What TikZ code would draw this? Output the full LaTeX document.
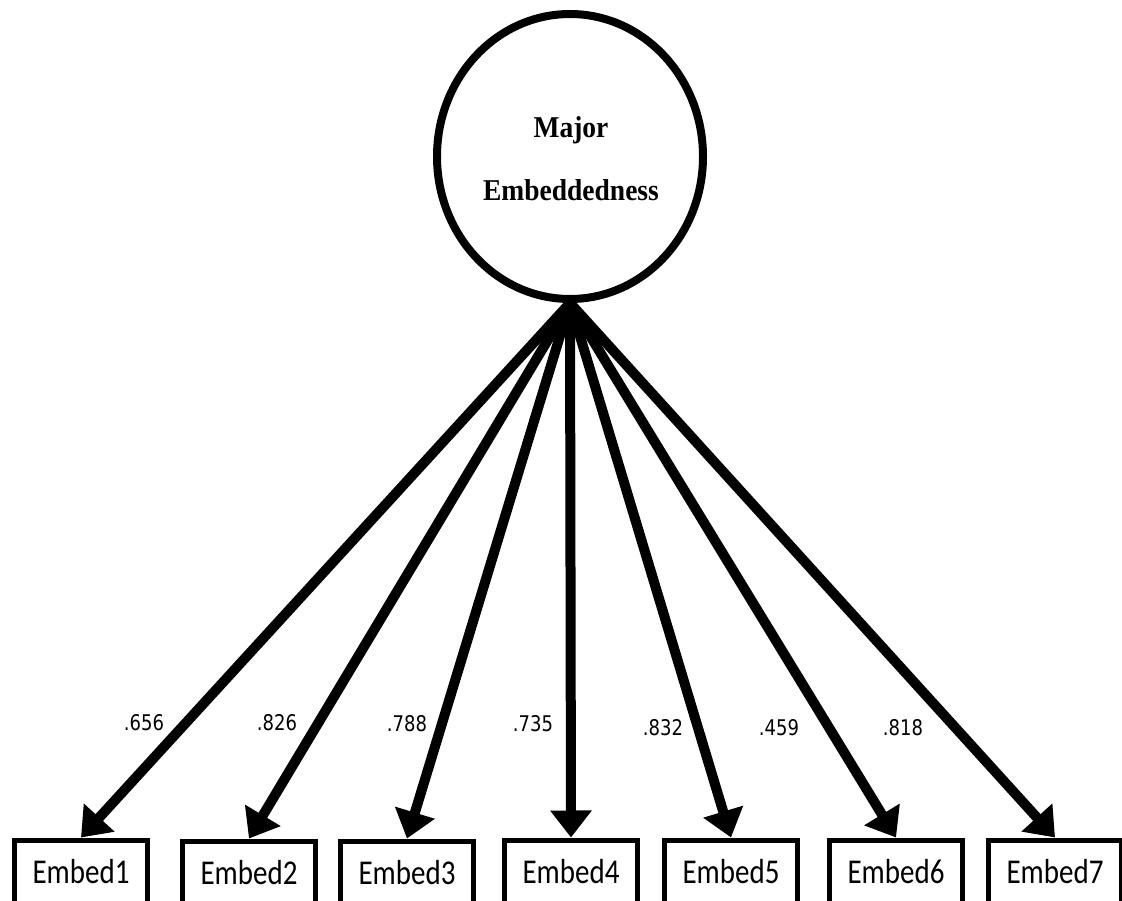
\documentclass[tikz,border=0pt]{standalone}
\usepackage{fontspec}
\usepackage{graphicx}
\usetikzlibrary{arrows.meta,shapes.geometric}
\newfontfamily\serifbf{Liberation Serif}
\newfontfamily\carl{Carlito}
\newfontfamily\lab{DejaVu Sans}
\newcommand\vst[2]{\scalebox{1}[#1]{#2}}
\begin{document}
\begin{tikzpicture}[x=1pt,y=-1pt,
  latent/.style={draw,line width=8pt,ellipse,minimum width=266pt,minimum height=285pt,inner sep=0pt},
  obs/.style={draw,line width=5pt,minimum width=133pt,minimum height=64pt,inner sep=0pt,font=\carl\fontsize{29}{34}\selectfont},
  load/.style={anchor=base,font=\lab\fontsize{18}{20}\selectfont},
  arr/.style={line width=10pt,-{Triangle[length=27pt,width=40pt]}}]
\useasboundingbox (0,0) rectangle (1122,901);
\node[latent] (lat) at (570,156.5) {};
\node[font=\serifbf\bfseries\fontsize{27.5}{63}\selectfont,align=center] (lt) at (571,159) {\vst{1.1}{Major}\\\vst{1.1}{Embeddedness}};
\coordinate (src) at (570,303);
\node[obs] (e1) at (81,872) {\vst{1.2}{Embed1}};
\node[obs] (e2) at (249,873) {\vst{1.2}{Embed2}};
\node[obs] (e3) at (407,873) {\vst{1.2}{Embed3}};
\node[obs] (e4) at (571,872) {\vst{1.2}{Embed4}};
\node[obs] (e5) at (731,872) {\vst{1.2}{Embed5}};
\node[obs] (e6) at (896,872) {\vst{1.2}{Embed6}};
\node[obs] (e7) at (1055,872) {\vst{1.2}{Embed7}};
\foreach \i in {1,...,7} {\draw[arr] (src) -- (e\i.north);}
\node[load] (l1) at (144,730) {\vst{1.2}{.656}};
\node[load] (l2) at (277,730) {\vst{1.2}{.826}};
\node[load] (l3) at (407,731) {\vst{1.2}{.788}};
\node[load] (l4) at (533,731) {\vst{1.2}{.735}};
\node[load] (l5) at (663,735) {\vst{1.2}{.832}};
\node[load] (l6) at (779,735) {\vst{1.2}{.459}};
\node[load] (l7) at (903,735) {\vst{1.2}{.818}};
\end{tikzpicture}
\end{document}
